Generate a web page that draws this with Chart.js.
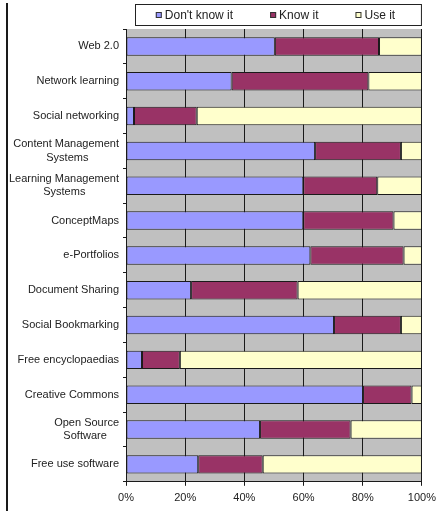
<!DOCTYPE html>
<html>
<head>
<meta charset="utf-8">
<script src="https://cdn.jsdelivr.net/npm/chart.js@4/dist/chart.umd.min.js"></script>
<style>
  html, body { margin: 0; padding: 0; background: #fff; }
  #wrap { width: 442px; height: 511px; position: relative; }
</style>
</head>
<body>
<div id="wrap"><canvas id="chart"></canvas></div>
<script>
// categories (top to bottom)
const tools = [
    'Web 2.0',
    'Network learning',
    'Social networking',
    ['Content Management', 'Systems          '],
    ['Learning Management', 'Systems           '],
    'ConceptMaps',
    'e-Portfolios',
    'Document Sharing',
    'Social Bookmarking',
    'Free encyclopaedias',
    'Creative Commons',
    ['Open Source', 'Software    '],
    'Free use software'
];

// percentages
const dontKnow = [50.3, 35.7, 2.7, 63.9, 59.9, 59.9, 62.3, 22.0, 70.3, 5.4, 80.1, 45.3, 24.4];
const knowIt   = [35.2, 46.2, 21.2, 29.0, 25.0, 30.5, 31.5, 36.0, 22.6, 12.8, 16.4, 30.6, 21.8];
const useIt    = [14.5, 18.1, 76.1, 7.1, 15.1, 9.6, 6.2, 42.0, 7.1, 81.8, 3.5, 24.1, 53.8];

const seriesNames = ["Don't know it", 'Know it', 'Use it'];
const seriesColors = ['#9999FF', '#993366', '#FFFFCC'];

const FONT = 'Liberation Sans, Arial, sans-serif';

// grey plot background + left frame line
const backdrop = {
    id: 'backdrop',
    beforeDraw(chart) {
        const { ctx, chartArea: a } = chart;
        ctx.save();
        ctx.fillStyle = '#C0C0C0';
        ctx.fillRect(a.left, a.top, a.right - a.left, a.bottom - a.top);
        ctx.strokeStyle = '#1a1a1a';
        ctx.lineWidth = 2;
        ctx.beginPath();
        ctx.moveTo(7, 3);
        ctx.lineTo(7, chart.height);
        ctx.stroke();
        ctx.restore();
    }
};

// boxed legend above the plot
const boxLegend = {
    id: 'boxLegend',
    afterDraw(chart) {
        const { ctx, chartArea: a } = chart;
        const left = a.left + 9, right = a.right, top = 4, bottom = 26;
        ctx.save();
        ctx.fillStyle = '#fff';
        ctx.fillRect(left, top, right - left, bottom - top);
        ctx.strokeStyle = '#222';
        ctx.lineWidth = 1;
        ctx.strokeRect(left + 0.5, top + 0.5, right - left - 1, bottom - top - 1);

        ctx.font = '12px ' + FONT;
        ctx.textBaseline = 'middle';
        const sq = 6, gap = 3, spacing = 37;
        const widths = chart.data.datasets.map(d => sq + gap + ctx.measureText(d.label).width);
        const total = widths.reduce((s, w) => s + w, 0) + spacing * (widths.length - 1);
        let x = left + (right - left - total) / 2 - 3;
        const cy = (top + bottom) / 2;
        chart.data.datasets.forEach((d, i) => {
            ctx.fillStyle = d.backgroundColor;
            ctx.fillRect(x, cy - sq / 2, sq, sq);
            ctx.strokeStyle = '#333';
            ctx.strokeRect(x + 0.5, cy - sq / 2 + 0.5, sq - 1, sq - 1);
            ctx.fillStyle = '#222';
            ctx.fillText(d.label, x + sq + gap, cy + 0.5);
            x += widths[i] + spacing;
        });
        ctx.restore();
    }
};

const seriesData = [dontKnow, knowIt, useIt];

new Chart(document.getElementById('chart'), {
    type: 'bar',
    data: {
        labels: tools,
        datasets: seriesData.map((vals, i) => ({
            label: seriesNames[i],
            data: vals,
            backgroundColor: seriesColors[i],
            borderColor: '#1a1a1a',
            borderWidth: 1,
            borderSkipped: false,
            barPercentage: 0.53,
            categoryPercentage: 1
        }))
    },
    options: {
        indexAxis: 'y',
        responsive: true,
        maintainAspectRatio: false,
        animation: false,
        layout: { padding: { top: 29, right: 20, bottom: 0, left: 0 } },
        plugins: {
            legend: { display: false },
            tooltip: { enabled: false }
        },
        scales: {
            x: {
                stacked: true,
                min: 0,
                max: 100,
                border: { display: true, color: '#1a1a1a', width: 1 },
                grid: {
                    color: '#1a1a1a',
                    lineWidth: 1,
                    drawTicks: true,
                    tickLength: 4
                },
                ticks: {
                    stepSize: 20,
                    color: '#222',
                    padding: 6,
                    font: { family: FONT, size: 11 },
                    callback: v => v + '%'
                }
            },
            y: {
                stacked: true,
                afterFit(scale) { scale.width = 126; },
                border: { display: true, color: '#1a1a1a', width: 1 },
                grid: {
                    offset: true,
                    drawOnChartArea: false,
                    drawTicks: true,
                    tickLength: 3,
                    color: '#1a1a1a'
                },
                ticks: {
                    color: '#222',
                    padding: 4,
                    autoSkip: false,
                    font: { family: FONT, size: 11, lineHeight: 1.2 }
                }
            }
        }
    },
    plugins: [backdrop, boxLegend]
});
</script>
</body>
</html>
